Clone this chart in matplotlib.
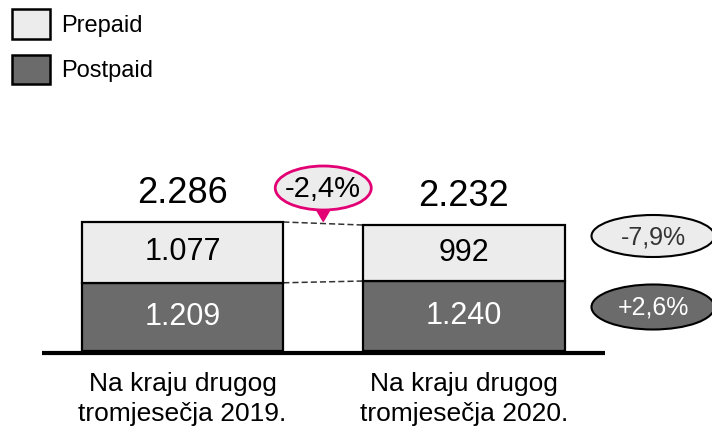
import matplotlib
matplotlib.use("Agg")
import matplotlib.pyplot as plt
from matplotlib.patches import Ellipse, Polygon, Patch

plt.rcParams["font.family"] = ["Liberation Sans Narrow", "Liberation Sans", "DejaVu Sans"]

# data
categories = ["Na kraju drugog\ntromjesečja 2019.", "Na kraju drugog\ntromjesečja 2020."]
prepaid = [1077, 992]
postpaid = [1209, 1240]
prepaid_labels = ["1.077", "992"]
postpaid_labels = ["1.209", "1.240"]
total_labels = ["2.286", "2.232"]
change_total = "-2,4%"
change_prepaid = "-7,9%"
change_postpaid = "+2,6%"

PRE_COL = "#ececec"
POST_COL = "#6b6b6b"
MAGENTA = "#e20074"

W, H = 712, 437
fig = plt.figure(figsize=(W / 100, H / 100), dpi=100)

# axes laid out so that y=0 sits on the baseline (px 351 from top)
px_per_unit = 129 / 2286.0
base_px = 351
ax = fig.add_axes([0, (H - base_px) / H, 1, base_px / H])
ax.set_ylim(0, base_px / px_per_unit)
spacing = 281.5
ax.set_xlim(-182.5 / spacing, (W - 182.5) / spacing)
ax.axis("off")

x = [0, 1]
bw = 0.716
totals = [a + b for a, b in zip(prepaid, postpaid)]
u = 1 / px_per_unit

ax.bar(x, postpaid, width=bw, color=POST_COL, edgecolor="black", linewidth=1.6, zorder=3)
ax.bar(x, prepaid, width=bw, bottom=postpaid, color=PRE_COL, edgecolor="black",
       linewidth=1.6, zorder=3)

# baseline
ax.plot([-0.5, 1.5], [-1.5 * u, -1.5 * u], color="black", lw=3, solid_capstyle="butt",
        zorder=4, clip_on=False)

# dashed connectors
ax.plot([bw / 2, 1 - bw / 2], [totals[0], totals[1]], ls=(0, (4, 2)), color="#333333", lw=1.1, zorder=2)
ax.plot([bw / 2, 1 - bw / 2], [postpaid[0], postpaid[1]], ls=(0, (4, 2)), color="#333333", lw=1.1, zorder=2)

# value labels
for i in x:
    ax.text(i, postpaid[i] / 2, postpaid_labels[i], ha="center", va="center",
            fontsize=22, color="white", zorder=5)
    ax.text(i, postpaid[i] + prepaid[i] / 2, prepaid_labels[i], ha="center", va="center",
            fontsize=22, color="black", zorder=5)
    ax.text(i, totals[i] + 29 * u, total_labels[i], ha="center", va="center",
            fontsize=26, color="black", zorder=5)
    ax.text(i, -21 * u, categories[i], ha="center", va="top", fontsize=19,
            linespacing=1.32, color="black", clip_on=False)

# magenta callout
ax.add_patch(Polygon([[0.5 - 8 / spacing, 2540], [0.5 + 8 / spacing, 2540], [0.5, totals[0] + 10]],
                     closed=True, color=MAGENTA, zorder=5))
ax.add_patch(Ellipse((0.5, (base_px - 188) * u), 96 / spacing, 44 * u, facecolor=PRE_COL,
                     edgecolor=MAGENTA, lw=2, zorder=6))
ax.text(0.5, (base_px - 189) * u, change_total, ha="center", va="center", fontsize=21, zorder=7)

# segment change bubbles
cx = (653 - 182.5) / spacing
ax.add_patch(Ellipse((cx, (base_px - 236) * u), 123 / spacing, 42 * u, facecolor=PRE_COL,
                     edgecolor="black", lw=1.5, zorder=6, clip_on=False))
ax.text(cx, (base_px - 237) * u, change_prepaid, ha="center", va="center", fontsize=18,
        color="#333333", zorder=7)
ax.add_patch(Ellipse((cx, (base_px - 307) * u), 123 / spacing, 45 * u, facecolor=POST_COL,
                     edgecolor="black", lw=1.5, zorder=6, clip_on=False))
ax.text(cx, (base_px - 308) * u, change_postpaid, ha="center", va="center", fontsize=18,
        color="white", zorder=7)

# legend
handles = [Patch(facecolor=PRE_COL, edgecolor="black", lw=1.8, label="Prepaid"),
           Patch(facecolor=POST_COL, edgecolor="black", lw=1.8, label="Postpaid")]
fig.legend(handles=handles, loc="upper left", bbox_to_anchor=(12 / W, 1 - 9 / H),
           frameon=False, fontsize=17, handlelength=1.6, handleheight=1.55,
           handletextpad=0.5, labelspacing=0.68, borderpad=0, borderaxespad=0)

fig.savefig("out.png", dpi=100)
